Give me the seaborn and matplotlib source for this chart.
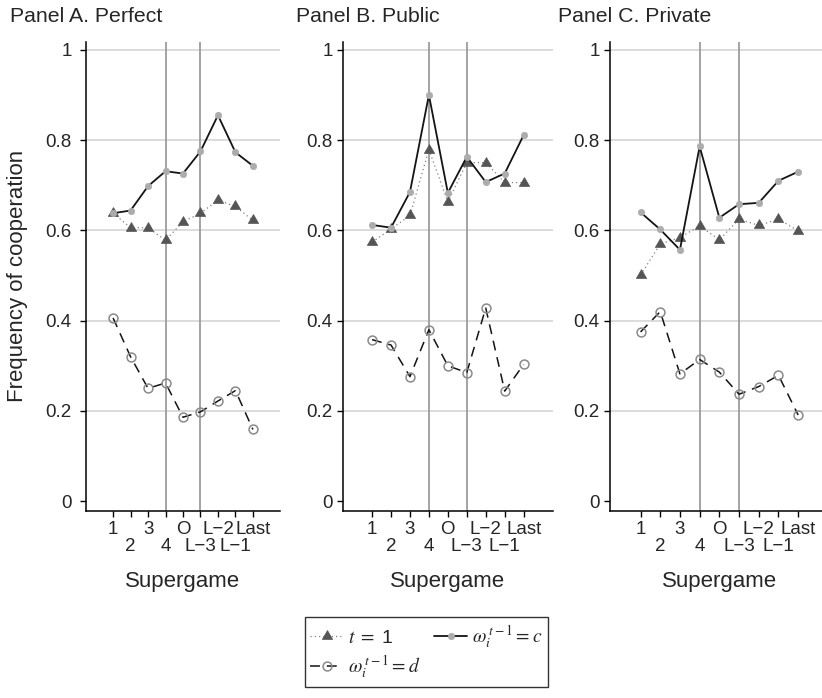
import matplotlib
matplotlib.use("Agg")
import matplotlib.pyplot as plt
import pandas as pd
import seaborn as sns
from matplotlib.lines import Line2D

# Supergame positions and their labels (odd ones on the upper row, even ones below)
supergames = ["1", "2", "3", "4", "O", "L\u22123", "L\u22122", "L\u22121", "Last"]
positions = [1, 2, 3, 4, 5, 6, 7, 8, 9]

panel_titles = ["Panel A. Perfect", "Panel B. Public", "Panel C. Private"]

# Frequency of cooperation in round t = 1
perfect_t1 = [0.638, 0.606, 0.606, 0.578, 0.619, 0.638, 0.667, 0.653, 0.622]
public_t1 = [0.574, 0.603, 0.633, 0.779, 0.663, 0.750, 0.750, 0.706, 0.706]
private_t1 = [0.501, 0.570, 0.584, 0.610, 0.579, 0.625, 0.611, 0.625, 0.599]

# Frequency of cooperation after own signal c
perfect_c = [0.638, 0.644, 0.698, 0.731, 0.726, 0.775, 0.855, 0.773, 0.743]
public_c = [0.612, 0.606, 0.685, 0.900, 0.683, 0.763, 0.707, 0.726, 0.811]
private_c = [0.640, 0.602, 0.557, 0.786, 0.628, 0.658, 0.661, 0.710, 0.730]

# Frequency of cooperation after own signal d
perfect_d = [0.406, 0.320, 0.250, 0.262, 0.186, 0.198, 0.222, 0.245, 0.159]
public_d = [0.358, 0.346, 0.276, 0.380, 0.300, 0.285, 0.428, 0.244, 0.303]
private_d = [0.375, 0.420, 0.282, 0.314, 0.286, 0.237, 0.254, 0.279, 0.191]

y_ticks = [0, 0.2, 0.4, 0.6, 0.8, 1.0]
y_ticklabels = ["0", "0.2", "0.4", "0.6", "0.8", "1"]
marker_lines = [4, 6]

sns.set_style("white")
plt.rcParams["font.family"] = ["Liberation Sans", "DejaVu Sans"]
plt.rcParams["mathtext.fontset"] = "stix"

W, H = 822, 698
fig = plt.figure(figsize=(W / 100, H / 100), dpi=100)

# axes boxes in pixels: left, right
boxes = [(86, 280), (342.7, 553), (610, 828.7)]
ax_top, ax_bottom = 41.7, 510.7

styles = {
    "t1": dict(color="#808080", linestyle=(0, (1, 2.4)), linewidth=0.9,
               marker=(3, 0, 0), markersize=8.6, mfc="#555555", mec="#555555", mew=0.5),
    "c": dict(color="#141414", linestyle="-", linewidth=1.3,
              marker="o", markersize=4.6, mfc="#acacac", mec="#acacac", mew=0.5),
    "d": dict(color="#141414", linestyle=(0, (6.5, 4.5)), linewidth=1.1,
              marker="o", markersize=6.4, mfc="none", mec="#8a8a8a", mew=1.1),
}

series = [
    (perfect_t1, perfect_c, perfect_d),
    (public_t1, public_c, public_d),
    (private_t1, private_c, private_d),
]

tick_fs = 13.5
for i, ((l, r), title, (t1, c, d)) in enumerate(zip(boxes, panel_titles, series)):
    ax = fig.add_axes([l / W, 1 - ax_bottom / H, (r - l) / W, (ax_bottom - ax_top) / H])
    df = pd.DataFrame({"pos": positions, "t1": t1, "c": c, "d": d})

    for yv in y_ticks[1:]:
        ax.axhline(yv, color="#d2d2d2", lw=1.1, zorder=0.5)
    for xv in marker_lines:
        ax.axvline(xv, color="#9c9c9c", lw=1.3, zorder=0.8)

    for key in ["t1", "c", "d"]:
        sns.lineplot(data=df, x="pos", y=key, ax=ax, errorbar=None,
                     zorder=3, **styles[key])

    ax.set_xlim(-0.55, 10.55)
    ax.set_ylim(-0.021, 1.018)
    ax.set_yticks(y_ticks)
    ax.set_yticklabels(y_ticklabels)
    ax.set_xticks(positions[0::2])
    ax.set_xticklabels(supergames[0::2])
    ax.set_xticks(positions[1::2], minor=True)
    ax.set_xticklabels(supergames[1::2], minor=True)
    ax.tick_params(axis="x", which="major", length=4.3, width=1.0, pad=3.4,
                   labelsize=tick_fs, color="black", direction="out", bottom=True)
    ax.tick_params(axis="x", which="minor", length=4.3, width=1.0, pad=15.0,
                   labelsize=tick_fs, color="black", direction="out", bottom=True)
    ax.tick_params(axis="y", length=4.3, width=1.0, pad=6.0 if i == 0 else 3.0,
                   labelsize=tick_fs, color="black", direction="out", left=True)
    for side in ["top", "right"]:
        ax.spines[side].set_visible(False)
    for side in ["left", "bottom"]:
        ax.spines[side].set_color("black")
        ax.spines[side].set_linewidth(1.1)
    ax.set_xlabel("")
    ax.set_ylabel("")

    cx = (l + r) / 2
    fig.text(cx / W, 1 - 587 / H, "Supergame", ha="center", va="baseline", fontsize=16)

title_x = [10, 296, 558]
for tx, title in zip(title_x, panel_titles):
    fig.text(tx / W, 1 - 22 / H, title, ha="left", va="baseline", fontsize=15.3)

fig.text(18 / W, 1 - (ax_top + ax_bottom) / 2 / H, "Frequency of cooperation",
         rotation=90, ha="center", va="center", fontsize=16)

handles = [
    Line2D([], [], **styles["t1"]),
    Line2D([], [], **styles["d"]),
    Line2D([], [], **styles["c"]),
]
labels = [r"$t\ =\ $1", r"$\omega_i^{\,t-1} = d$", r"$\omega_i^{\,t-1} = c$"]
leg = fig.legend(handles, labels, loc="center", bbox_to_anchor=(426.5 / W, 1 - 652 / H),
                 ncol=2, fontsize=14, frameon=True, fancybox=False, handlelength=1.7,
                 handletextpad=0.25, columnspacing=0.7, borderpad=0.3, labelspacing=0.35,
                 numpoints=1)
leg.get_frame().set_edgecolor("black")
leg.get_frame().set_linewidth(1.0)

fig.savefig("out.png", dpi=100)
